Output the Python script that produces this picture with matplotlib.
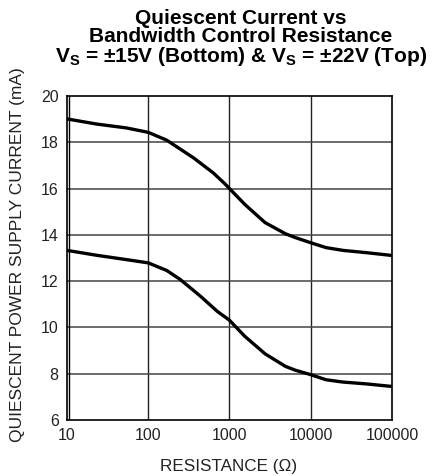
import numpy as np
from matplotlib import pyplot as plt

plt.rcParams['font.family'] = ['Liberation Sans', 'DejaVu Sans']

# values (top curve: Vs = +/-22V, bottom: Vs = +/-15V)
res_22v = [10, 23, 54, 100, 169, 360, 630, 870, 1000, 1540, 2740, 4870, 6490,
           10000, 15400, 24900, 48700, 100000]
iq_22v = [19.01, 18.79, 18.62, 18.43, 18.09, 17.33, 16.68, 16.22, 16.0, 15.32,
          14.53, 14.05, 13.88, 13.66, 13.45, 13.33, 13.23, 13.11]
res_15v = [10, 23, 54, 100, 169, 248, 439, 705, 1000, 1540, 2740, 4870, 6490,
           10000, 15400, 24900, 48700, 100000]
iq_15v = [13.33, 13.12, 12.93, 12.79, 12.46, 12.07, 11.35, 10.70, 10.31, 9.62,
          8.86, 8.32, 8.15, 7.96, 7.74, 7.64, 7.56, 7.45]

xticks = [10, 100, 1000, 10000, 100000]
yticks = [6, 8, 10, 12, 14, 16, 18, 20]

fig = plt.figure(figsize=(4.34, 4.76), dpi=100)
ax = fig.add_axes([0.1544, 0.1176, 0.9032 - 0.1544, 0.7983 - 0.1176])

ax.set_xscale('log')
ax.set_xlim(10, 100000)
ax.set_ylim(6, 20)

# grid lines
for x in xticks[1:-1]:
    ax.axvline(x, color='#222222', lw=1.0, zorder=1)
for y in yticks[1:-1]:
    ax.axhline(y, color='#444444', lw=1.1, zorder=1)

ax.plot(res_22v, iq_22v, color='black', lw=2.4, zorder=3,
        solid_joinstyle='round', solid_capstyle='butt')
ax.plot(res_15v, iq_15v, color='black', lw=2.4, zorder=3,
        solid_joinstyle='round', solid_capstyle='butt')

# double left border
ax.axvline(10.6, color='black', lw=1.0, zorder=4)

for s in ax.spines.values():
    s.set_linewidth(1.2)

ax.set_xticks(xticks)
ax.set_xticklabels([str(v) for v in xticks])
ax.set_yticks(yticks)
ax.set_yticklabels([str(v) for v in yticks])
ax.minorticks_off()
ax.tick_params(length=0, labelsize=11.5, colors='#222222', pad=6)

fig.text(0.5265, 0.021, 'RESISTANCE (\u03a9)', fontsize=12.3, color='#222222',
         ha='center', va='center')
fig.text(0.041, 0.465, 'QUIESCENT POWER SUPPLY CURRENT (mA)', fontsize=12.5, color='#222222',
         ha='center', va='center', rotation=90)

title = ('Quiescent Current vs\nBandwidth Control Resistance\n'
         'V$_\\mathregular{S}$ = \u00b115V (Bottom) & V$_\\mathregular{S}$ = \u00b122V (Top)')
fig.text(0.555, 0.981, title, ha='center', va='top', fontsize=15,
         fontweight='bold', linespacing=0.95)

fig.savefig('out.png', dpi=100)
